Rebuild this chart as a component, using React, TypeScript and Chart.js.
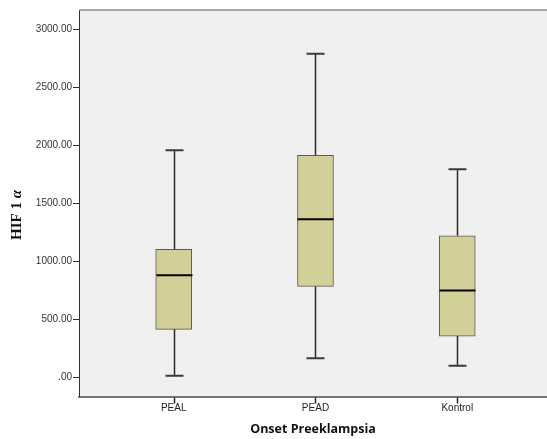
import React, { useEffect, useRef } from "react";
import { Chart, registerables } from "chart.js";

Chart.register(...registerables);

const categories = ["PEAL", "PEAD", "Kontrol"];
const minVals = [17, 167, 103];
const q1Vals = [417, 787, 359];
const medianVals = [884, 1365, 752];
const q3Vals = [1106, 1918, 1223];
const maxVals = [1961, 2793, 1797];
const yTicks = [0, 500, 1000, 1500, 2000, 2500, 3000];

const boxPlugin = {
  id: "boxExtras",
  beforeDraw(chart: any) {
    const { ctx, chartArea } = chart;
    ctx.save();
    ctx.fillStyle = "#F0F0F0";
    ctx.fillRect(chartArea.left, chartArea.top, chartArea.right - chartArea.left, chartArea.bottom - chartArea.top);
    ctx.restore();
  },
  afterDatasetsDraw(chart: any) {
    const { ctx, chartArea, scales } = chart;
    const xs = scales.x;
    const ys = scales.y;
    ctx.save();
    categories.forEach((_, i) => {
      const cx = Math.round(xs.getPixelForValue(i + 1)) + 0.5;
      const yMin = ys.getPixelForValue(minVals[i]);
      const yQ1 = ys.getPixelForValue(q1Vals[i]);
      const yQ3 = ys.getPixelForValue(q3Vals[i]);
      const yMax = ys.getPixelForValue(maxVals[i]);
      const yMed = ys.getPixelForValue(medianVals[i]);
      ctx.strokeStyle = "#2a2a2a";
      ctx.lineWidth = 1.5;
      ctx.beginPath();
      ctx.moveTo(cx, yQ3);
      ctx.lineTo(cx, yMax);
      ctx.moveTo(cx, yQ1);
      ctx.lineTo(cx, yMin);
      ctx.stroke();
      ctx.strokeStyle = "#3a3a3a";
      ctx.lineWidth = 2;
      ctx.beginPath();
      ctx.moveTo(cx - 9, yMax);
      ctx.lineTo(cx + 9, yMax);
      ctx.moveTo(cx - 9, yMin);
      ctx.lineTo(cx + 9, yMin);
      ctx.stroke();
      ctx.strokeStyle = "#000";
      ctx.lineWidth = 2;
      ctx.beginPath();
      ctx.moveTo(cx - 18, yMed);
      ctx.lineTo(cx + 18, yMed);
      ctx.stroke();
    });
    ctx.strokeStyle = "#8a8a8a";
    ctx.lineWidth = 1.5;
    ctx.beginPath();
    ctx.moveTo(chartArea.left, chartArea.top);
    ctx.lineTo(chartArea.right, chartArea.top);
    ctx.stroke();
    ctx.restore();
  },
  afterDraw(chart: any) {
    const { ctx, chartArea, scales } = chart;
    ctx.save();
    categories.forEach((_, i) => {
      const cx = Math.round(scales.x.getPixelForValue(i + 1)) + 0.5;
      ctx.strokeStyle = "#222";
      ctx.lineWidth = 1.5;
      ctx.beginPath();
      ctx.moveTo(cx, chartArea.bottom + 1);
      ctx.lineTo(cx, chartArea.bottom + 7);
      ctx.stroke();
    });
    ctx.fillStyle = "#111";
    ctx.font = "bold 12.5px 'Open Sans'";
    ctx.textAlign = "center";
    ctx.textBaseline = "middle";
    ctx.fillText("Onset Preeklampsia", (chartArea.left + chartArea.right) / 2, 429);
    ctx.translate(17, 215);
    ctx.rotate(-Math.PI / 2);
    const f1 = "bold 15px 'Liberation Serif'";
    const f2 = "bold italic 15px 'Liberation Serif'";
    ctx.font = f1;
    const t1 = "HIF 1 ";
    const w1 = ctx.measureText(t1).width;
    ctx.font = f2;
    const w2 = ctx.measureText("α").width;
    const start = -(w1 + w2) / 2;
    ctx.textAlign = "left";
    ctx.font = f1;
    ctx.fillText(t1, start, 0);
    ctx.font = f2;
    ctx.fillText("α", start + w1, 0);
    ctx.restore();
  },
};

export default function App() {
  const ref = useRef<HTMLCanvasElement>(null);
  useEffect(() => {
    if (!ref.current) return;
    const chart = new Chart(ref.current, {
      type: "bar",
      data: {
        datasets: [
          {
            data: categories.map((_, i) => ({ x: i + 1, y: [q1Vals[i], q3Vals[i]] })) as any,
            backgroundColor: "#D3CF98",
            borderColor: "#5a5a50",
            borderWidth: 1,
            borderSkipped: false,
            barThickness: 36,
          },
        ],
      },
      options: {
        animation: false,
        responsive: false,
        maintainAspectRatio: false,
        layout: { padding: { top: 10, right: 0, left: 0, bottom: 0 } },
        plugins: { legend: { display: false }, tooltip: { enabled: false } },
        scales: {
          x: {
            type: "linear",
            offset: false,
            min: 0.332,
            max: 3.633,
            afterBuildTicks: (s: any) => {
              s.ticks = categories.map((_, i) => ({ value: i + 1 }));
            },
            afterFit: (s: any) => {
              s.height = 42.5;
            },
            ticks: {
              callback: (v: any) => categories[Number(v) - 1] ?? "",
              font: { family: "'Liberation Sans'", size: 10 },
              color: "#222",
              padding: 6,
              maxRotation: 0,
            },
            grid: { display: false, offset: false, drawOnChartArea: false, tickLength: 0 },
            border: { display: true, color: "#777", width: 2 },
          },
          y: {
            type: "linear",
            min: -162,
            max: 3170,
            afterBuildTicks: (s: any) => {
              s.ticks = yTicks.map((v) => ({ value: v }));
            },
            afterFit: (s: any) => {
              s.width = 79;
            },
            ticks: {
              callback: (v: any) => (Number(v) === 0 ? ".00" : Number(v).toFixed(2)),
              font: { family: "'Liberation Sans'", size: 10 },
              color: "#333",
              padding: 1,
            },
            grid: { drawOnChartArea: false, drawTicks: true, tickLength: 6, color: "#333" },
            border: { display: true, color: "#333", width: 1 },
          },
        },
      },
      plugins: [boxPlugin],
    });
    return () => chart.destroy();
  }, []);
  return (
    <div style={{ position: "fixed", left: 0, top: 0, width: 547, height: 439, background: "#fff" }}>
      <canvas ref={ref} width={547} height={439} style={{ width: 547, height: 439 }} />
    </div>
  );
}
